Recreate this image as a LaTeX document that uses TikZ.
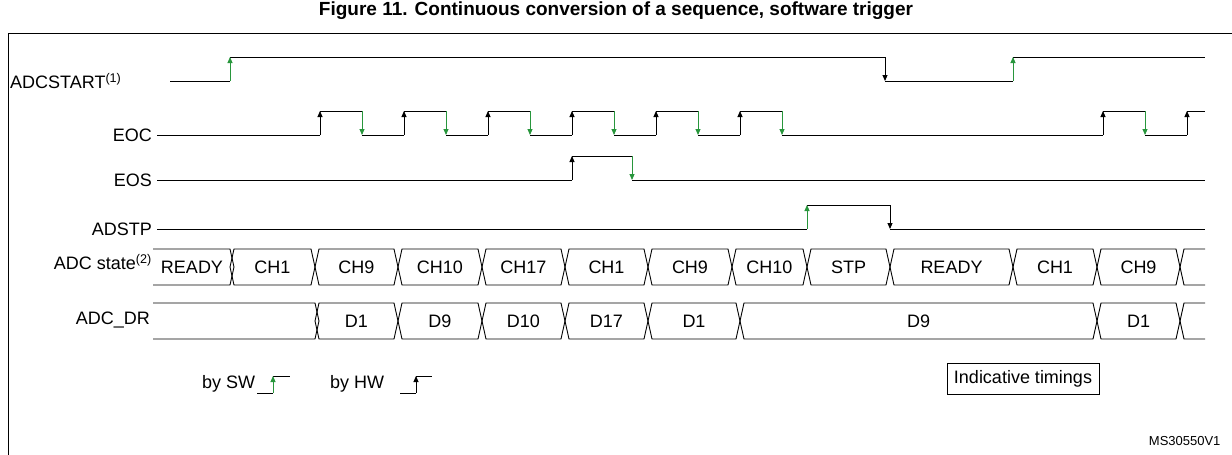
\documentclass[tikz,border=0pt]{standalone}
\usepackage{fontspec}
\setmainfont{Liberation Sans}
\usetikzlibrary{arrows.meta}
\definecolor{swgreen}{RGB}{40,150,60}

\begin{document}
\begin{tikzpicture}[x=1pt,y=-1pt,
                    sig/.style={line width=0.9pt},
                    sw/.style={sig,swgreen,-{Triangle[length=6pt,width=5pt]}},
                    hw/.style={sig,black,-{Triangle[length=6pt,width=5pt]}},
                    lbl/.style={font=\fontsize{18}{18}\selectfont,inner sep=0pt},
                    bus/.style={sig,font=\fontsize{18}{18}\selectfont}]
\useasboundingbox (0,0) rectangle (1232,455);
\clip (0,0) rectangle (1232,455);
\node[font=\bfseries\fontsize{19}{19}\selectfont,anchor=base] (title) at (616,15) {Figure 11. Continuous conversion of a sequence, software trigger};
\draw[line width=1pt] (8,460) -- (8,33) -- (1240,33);

% signal names
\node[lbl,anchor=west] (adcstart) at (10,81) {ADCSTART\textsuperscript{(1)}};
\node[lbl,anchor=east] (eoc) at (152,135) {EOC};
\node[lbl,anchor=east] (eos) at (152,180) {EOS};
\node[lbl,anchor=east] (adstp) at (152,229) {ADSTP};
\node[lbl,anchor=east] (state) at (152,262) {ADC state\textsuperscript{(2)}};
\node[lbl,anchor=east] (dr) at (150,320) {ADC\_DR};

% ADCSTART
\draw[sig] (170,81) -- (230,81) (230,57) -- (885,57) (885,81) -- (1013,81) (1013,57) -- (1205,57);
\draw[sw] (230,81) -- (230,57);
\draw[hw] (885,57) -- (885,81);
\draw[sw] (1013,81) -- (1013,57);

% EOC
\draw[sig] (157,135) -- (320,135) (782,135) -- (1103,135) (1145,135) -- (1187,135) (1187,111) -- (1205,111);
\foreach \r in {320,404,488,572,656,740,1103}{
  \draw[sig] (\r,111) -- (\r+42,111);
  \draw[hw] (\r,135) -- (\r,111);
  \draw[sw] (\r+42,111) -- (\r+42,135);
}
\foreach \f in {362,446,530,614,698}
  \draw[sig] (\f,135) -- (\f+42,135);
\draw[hw] (1187,135) -- (1187,111);

% EOS
\draw[sig] (157,180) -- (572,180) (572,156) -- (632,156) (632,180) -- (1205,180);
\draw[hw] (572,180) -- (572,156);
\draw[sw] (632,156) -- (632,180);

% ADSTP
\draw[sig] (157,229) -- (807,229) (807,205) -- (890,205) (890,229) -- (1205,229);
\draw[sw] (807,229) -- (807,205);
\draw[hw] (890,205) -- (890,229);

% ADC state
\draw[sig] (153,249) -- (230,249) -- (234,267) -- (230,285) -- (153,285);
\node[bus] (s0) at (192,267) {READY};
\foreach \a/\b/\t [count=\i] in {230/315/CH1,315/398/CH9,398/482/CH10,482/565/CH17,565/648/CH1,
    648/732/CH9,732/807/CH10,807/890/STP,890/1013/READY,1013/1097/CH1,1097/1180/CH9}{
  \draw[sig] (\a,267) -- (\a+4,249) -- (\b-4,249) -- (\b,267) -- (\b-4,285) -- (\a+4,285) -- cycle;
  \node[bus] (s\i) at ({(\a+\b)/2},267) {\t};
}
\draw[sig] (1205,249) -- (1184,249) -- (1180,267) -- (1184,285) -- (1205,285);

% ADC_DR
\draw[sig] (153,303) -- (315,303) -- (319,321) -- (315,339) -- (153,339);
\foreach \a/\b/\t [count=\i] in {315/398/D1,398/482/D9,482/565/D10,565/648/D17,648/740/D1,
    740/1097/D9,1097/1180/D1}{
  \draw[sig] (\a,321) -- (\a+4,303) -- (\b-4,303) -- (\b,321) -- (\b-4,339) -- (\a+4,339) -- cycle;
  \node[bus] (d\i) at ({(\a+\b)/2},321) {\t};
}
\draw[sig] (1205,303) -- (1184,303) -- (1180,321) -- (1184,339) -- (1205,339);

% legend
\node[lbl,anchor=west] (bysw) at (202,384) {by SW};
\draw[sig] (257,393) -- (273,393) (273,376) -- (290,376);
\draw[sw] (273,393) -- (273,376);
\node[lbl,anchor=west] (byhw) at (330,384) {by HW};
\draw[sig] (400,393) -- (416,393) (416,376) -- (432,376);
\draw[hw] (416,393) -- (416,376);
\node[lbl,draw,line width=0.7pt,inner xsep=7pt,inner ysep=7pt] (timings) at (1023,379) {Indicative timings};
\node[font=\fontsize{13}{13}\selectfont,anchor=east] (ref) at (1224,441) {MS30550V1};
\end{tikzpicture}
\end{document}
